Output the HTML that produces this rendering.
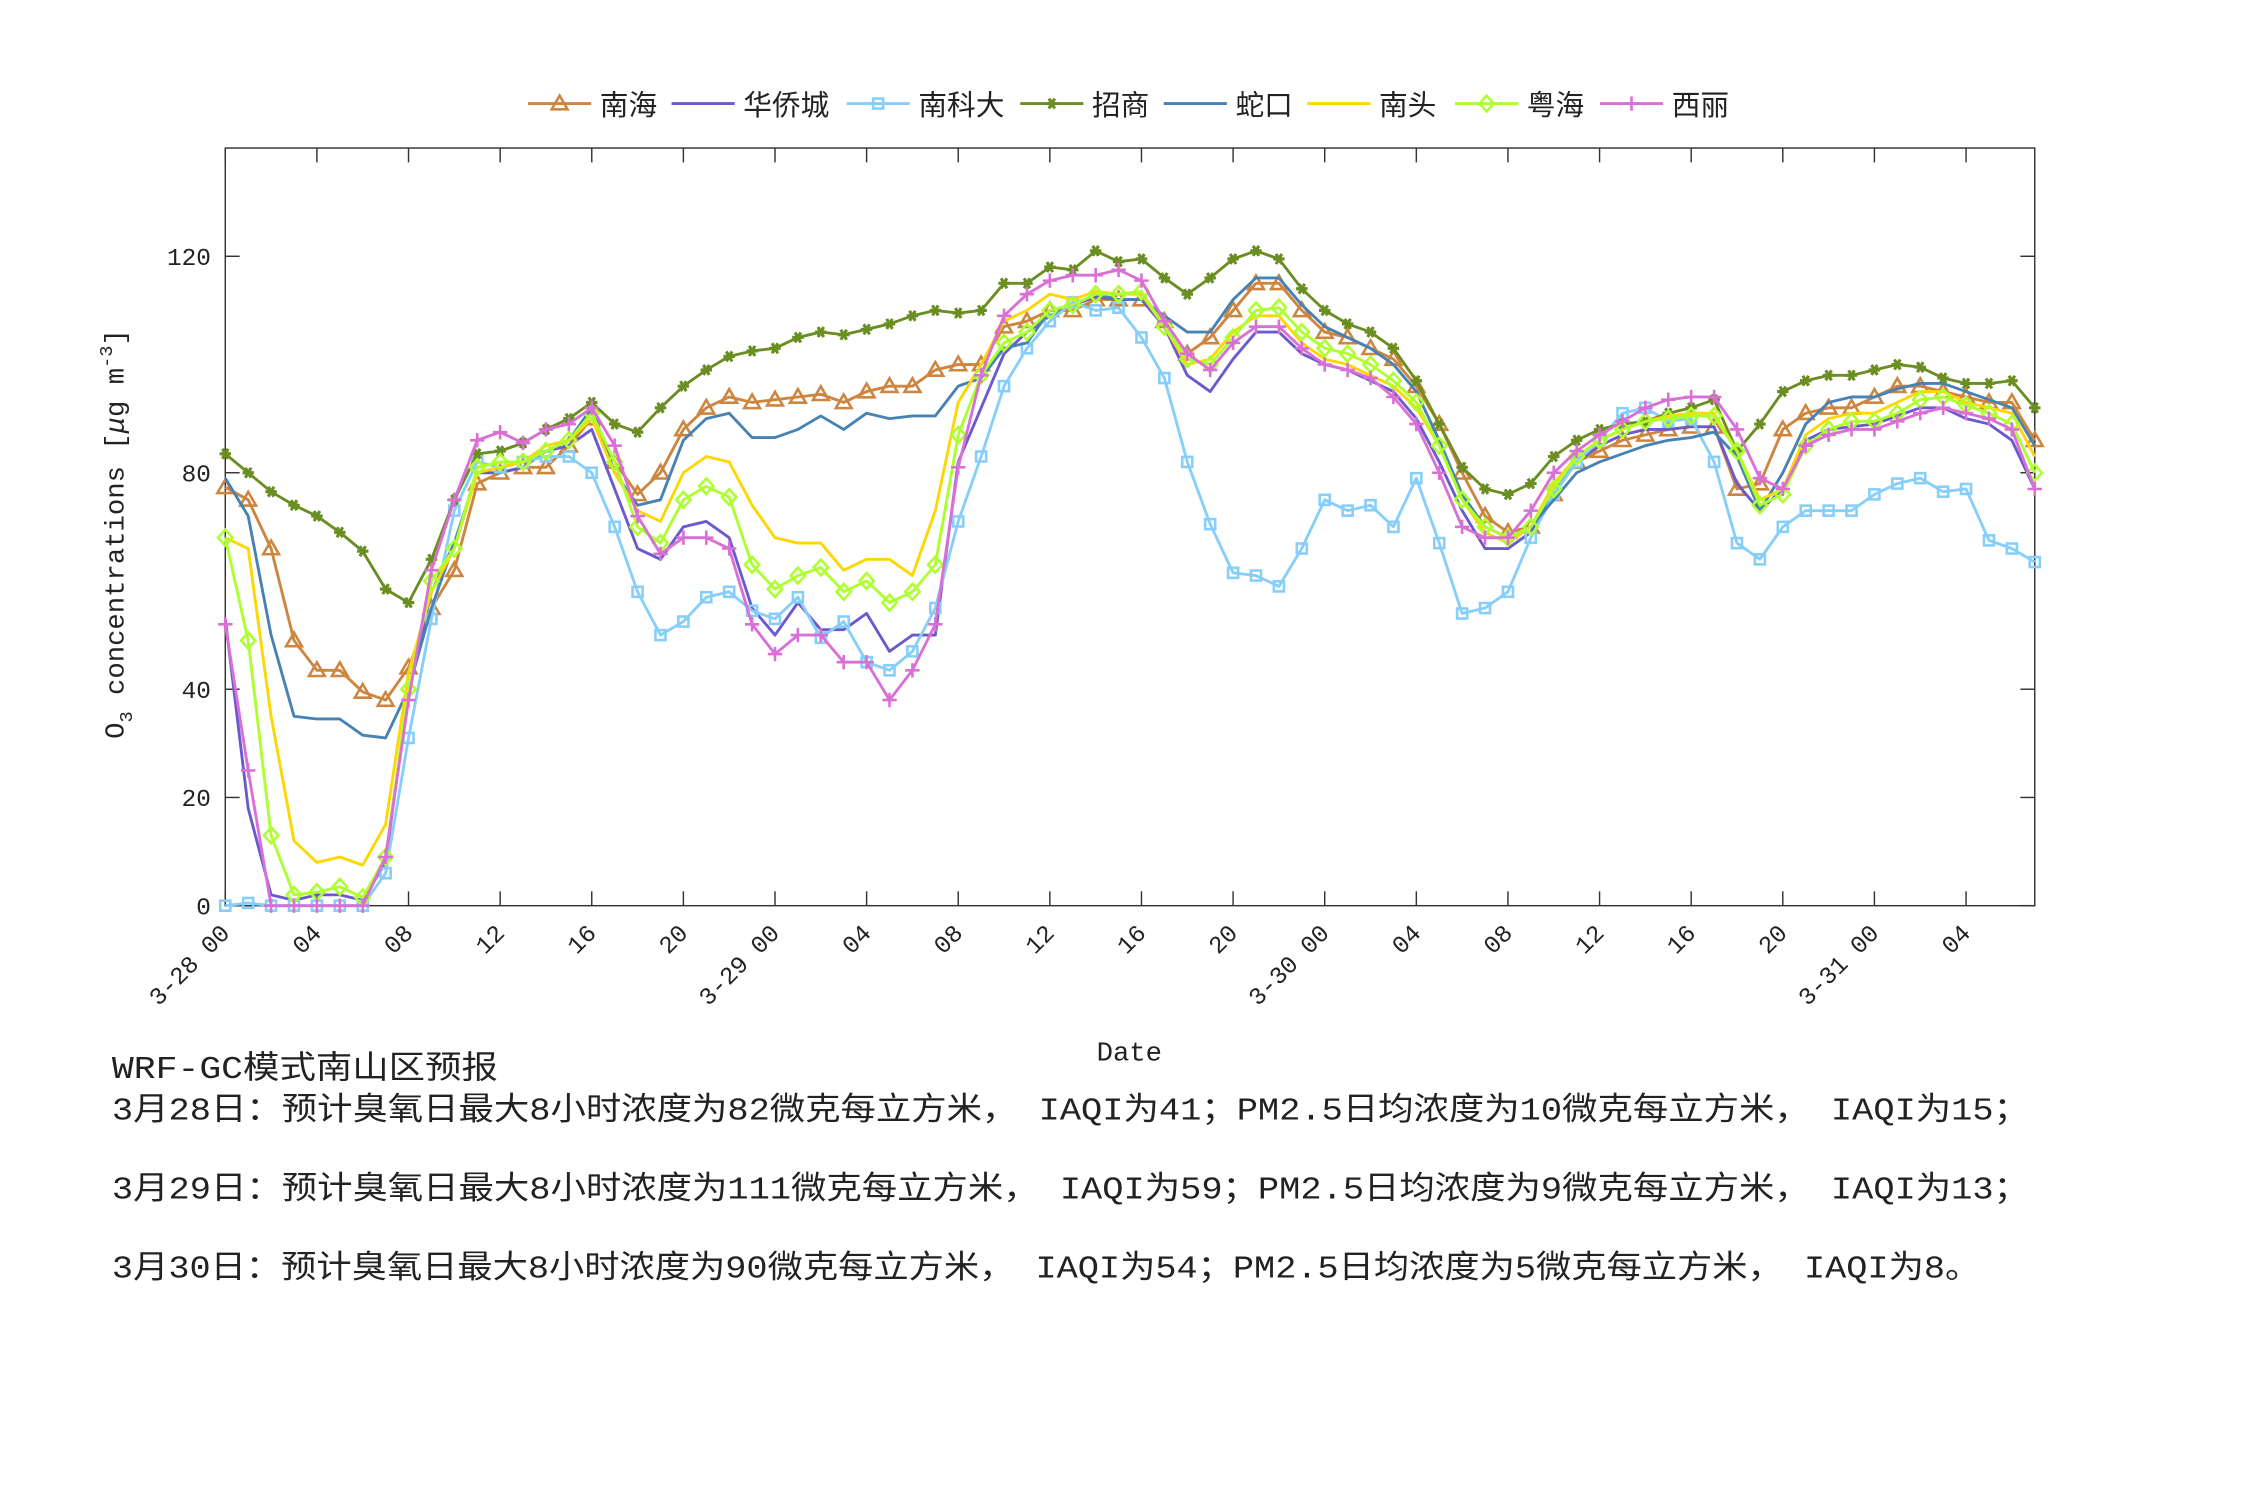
<!DOCTYPE html>
<html><head><meta charset="utf-8"><style>
html,body{margin:0;padding:0;background:#fff}
svg{display:block}
text{font-family:"Liberation Mono","Noto Sans CJK SC",monospace;fill:#222}
.cjk{font-family:"Liberation Mono","Noto Sans CJK SC",sans-serif}
</style></head><body>
<svg id="chart" width="2250" height="1500" viewBox="0 0 1568 1045" xmlns="http://www.w3.org/2000/svg">
<rect x="0" y="0" width="1568" height="1045" fill="#fff"/>
<g id="legend"></g>
<rect x="157" y="103" width="1261" height="528" fill="none" stroke="#333" stroke-width="1"/>
<g id="ticks"></g>
<g id="series"></g>
<text x="787" y="739" font-size="19" text-anchor="middle">Date</text>
<text transform="translate(86,372) rotate(-90)" font-size="19" text-anchor="middle">O<tspan font-size="13" dy="6">3</tspan><tspan dy="-6"> concentrations [</tspan><tspan font-style="italic">μ</tspan>g m<tspan font-size="13" dy="-8">-3</tspan><tspan dy="8">]</tspan></text>
<g font-size="22" class="cjk">
<text x="78" y="751" textLength="269" lengthAdjust="spacingAndGlyphs">WRF-GC模式南山区预报</text>
<text x="78" y="780" textLength="1336" lengthAdjust="spacingAndGlyphs">3月28日：预计臭氧日最大8小时浓度为82微克每立方米， IAQI为41；PM2.5日均浓度为10微克每立方米， IAQI为15；</text>
<text x="78" y="835" textLength="1336" lengthAdjust="spacingAndGlyphs">3月29日：预计臭氧日最大8小时浓度为111微克每立方米， IAQI为59；PM2.5日均浓度为9微克每立方米， IAQI为13；</text>
<text x="78" y="890" textLength="1302" lengthAdjust="spacingAndGlyphs">3月30日：预计臭氧日最大8小时浓度为90微克每立方米， IAQI为54；PM2.5日均浓度为5微克每立方米， IAQI为8。</text>
</g>
</svg>
<script>
const seriesNames = ["南海","华侨城","南科大","招商","蛇口","南头","粤海","西丽"];
const nanhai = [77.3,75,66,49,43.5,43.5,39.5,38,44,55,62,78,80,81,81,85,90,82,76,80,88,92,94,93,93.5,94,94.5,93,95,96,96,99,100,100,107,108,110,110,112,112,112,108,102,105,110,115,115,110,106,105,103,101,96,89,80,72,69,70,76,82,84,86,87,88,88.5,88.5,77,78,88,91,92,92,94,96,96,95,94,93,93,86];
const huaqiaocheng = [53,18,2,1,2,2,1,8,40,58,67,80,80,81,84,85,88,77,66,64,70,71,68,55,50,56,51,51,54,47,50,50,82,92,102,106,109,111,112.5,112,112,107,98,95,101,106,106,102,100,99,97,95,90,82,73,66,66,69,77,82,85,87,88,88,88.5,88.5,78,73,77,86,88,88.5,89,90.5,92,92,90,89,86,77];
const nankeda = [0,0.5,0,0,0,0,0,6,31,53,73,82,81,82,83,83,80,70,58,50,52.5,57,58,54.5,53,57,49.5,52.5,45,43.5,47,55,71,83,96,103,108,111.5,110,110.5,105,97.5,82,70.5,61.5,61,59,66,75,73,74,70,79,67,54,55,58,68,76,82,86,91,92,89.5,90,82,67,64,70,73,73,73,76,78,79,76.5,77,67.5,66,63.5];
const zhaoshang = [83.5,80,76.5,74,72,69,65.5,58.5,56,64,75,83.5,84,85.5,88,90,93,89,87.5,92,96,99,101.5,102.5,103,105,106,105.5,106.5,107.5,109,110,109.5,110,115,115,118,117.5,121,119,119.5,116,113,116,119.5,121,119.5,114,110,107.5,106,103,97,89,81,77,76,78,83,86,88,89,89.5,91,92,93.5,84,89,95,97,98,98,99,100,99.5,97.5,96.5,96.5,97,92];
const shekou = [79,72,50,35,34.5,34.5,31.5,31,40,55,67,80,81,82,84,86,92,80,74,75,86,90,91,86.5,86.5,88,90.5,88,91,90,90.5,90.5,96,97.5,103,104,110,111,113,112,112,109,106,106,112,116,116,111,107,105,103,100,95,86,76,70,68,70,75,80,82,83.5,85,86,86.5,87.5,83,73,80,89,93,94,94,95.5,96.5,96.5,95,93.5,92,85];
const nantou = [68,66,35,12,8,9,7.5,15,43,58,66,80,81,82,85,86,90,80,73,71,80,83,82,74,68,67,67,62,64,64,61,73,93,100,108,110,113,112,113.5,113,113,107,100,101,106,109,109,104,101,100,98,96,92,85,75,69,67,70,78,83,86,88,89.5,90.5,91,91,84,75,77,87,90,91,91,93,95,95,93,92,91,83];
const yuehai = [68,49,13,2,2.5,3.5,1.5,9,40,60,66,81,82,82,84,86,91,82,70,67,75,77.5,75.5,63,58.5,61,62.5,58,60,56,58,63,87,98,104,106,110,111,113,113,113.5,107,101,100,105,110,110.5,106,103,102,100,97,93,85,75,70,68,70,77,83,86,88,89.5,90,90.5,90.5,84,74,76,85,88,89.5,89.5,91,93.5,94,92.5,91,89,80];
const xili = [52,25,0,0,0,0,0,9,38,62,75,86,87.5,85.5,88,89,92,85,72,65,68,68,66,52,46.5,50,50,45,45,38,43.5,52,81,98,109,113,115.5,116.5,116.5,117.5,115.5,108,102,99,104,107,107,103,100,99,97.5,94,89,80,70,68,68,73,80,84,87,89.5,92,93.5,94,94,88,79,77,85,87,88,88,89.5,91,92,91,90,88,77];
const yTickValues = [0,20,40,80,120];
const xTickLabels = ["3-28 00","04","08","12","16","20","3-29 00","04","08","12","16","20","3-30 00","04","08","12","16","20","3-31 00","04"];
const xTickHours = [0,4,8,12,16,20,24,28,32,36,40,44,48,52,56,60,64,68,72,76];

const NS="http://www.w3.org/2000/svg";
const X0=157,X1=1418,Y0=631,Y1=103,HMAX=79,VMAX=140;
function xs(h){return X0+(X1-X0)*h/HMAX;}
function ys(v){return Y0-(Y0-Y1)*v/VMAX;}
function mk(tag,attrs,parent){const e=document.createElementNS(NS,tag);for(const k in attrs)e.setAttribute(k,attrs[k]);parent.appendChild(e);return e;}

const styles=[
 {c:"#cd853f",m:"tri"},{c:"#6a5acd",m:"none"},{c:"#87cefa",m:"sq"},{c:"#6b8e23",m:"star"},
 {c:"#4682b4",m:"none"},{c:"#ffd700",m:"none"},{c:"#adff2f",m:"dia"},{c:"#da70d6",m:"plus"}];
const allData=[nanhai,huaqiaocheng,nankeda,zhaoshang,shekou,nantou,yuehai,xili];
const keys=["nanhai","huaqiaocheng","nankeda","zhaoshang","shekou","nantou","yuehai","xili"];

function marker(type,x,y,c,g){
  let e=null;
  if(type==="tri"){e=mk("polygon",{points:`${x},${y-5.5} ${x-5.5},${y+4} ${x+5.5},${y+4}`,fill:"none",stroke:c,"stroke-width":1.8},g);}
  else if(type==="sq"){e=mk("rect",{x:x-3.5,y:y-3.5,width:7,height:7,fill:"none",stroke:c,"stroke-width":1.8},g);}
  else if(type==="dia"){e=mk("polygon",{points:`${x},${y-5.5} ${x+5},${y} ${x},${y+5.5} ${x-5},${y}`,fill:"none",stroke:c,"stroke-width":1.8},g);}
  else if(type==="plus"){e=mk("path",{d:`M${x-5},${y}H${x+5}M${x},${y-5}V${y+5}`,stroke:c,"stroke-width":1.8},g);}
  else if(type==="star"){e=mk("path",{d:`M${x-4},${y}H${x+4}M${x-2},${y-3.5}L${x+2},${y+3.5}M${x+2},${y-3.5}L${x-2},${y+3.5}`,stroke:c,"stroke-width":2.2},g);}
  if(e){
  }
}

const tg=document.getElementById('ticks');
yTickValues.forEach(v=>{
  const y=ys(v);
  mk("line",{x1:X0,y1:y,x2:X0+10,y2:y,stroke:"#333"},tg);
  mk("line",{x1:X1,y1:y,x2:X1-10,y2:y,stroke:"#333"},tg);
  const t=mk("text",{x:X0-10,y:y+6,"font-size":17,"text-anchor":"end"},tg);
  
  
  t.textContent=v;
});
xTickHours.forEach((h,i)=>{
  const x=xs(h);
  mk("line",{x1:x,y1:Y0,x2:x,y2:Y0-10,stroke:"#333"},tg);
  mk("line",{x1:x,y1:Y1,x2:x,y2:Y1+10,stroke:"#333"},tg);
  const t=mk("text",{x:x+4,y:Y0+20,"font-size":17,"text-anchor":"end",transform:`rotate(-45 ${x+4} ${Y0+20})`},tg);
  
  
  t.textContent=xTickLabels[i];
});

const sg=document.getElementById('series');
allData.forEach((d,si)=>{
  const g=mk("g",{},sg);
  
  
  const pts=d.map((v,i)=>xs(i).toFixed(2)+","+ys(v).toFixed(2)).join(" ");
  const pl=mk("polyline",{points:pts,fill:"none",stroke:styles[si].c,"stroke-width":2,"stroke-linejoin":"round"},g);
  
  
  if(styles[si].m!=="none") d.forEach((v,i)=>marker(styles[si].m,xs(i),ys(v),styles[si].c,g));
});

const lg=document.getElementById('legend');
const legX=[368,468,590,711,811,911,1014,1115];
seriesNames.forEach((n,i)=>{
  const g=mk("g",{},lg);
  
  
  const x=legX[i],y=72;
  mk("line",{x1:x,y1:y,x2:x+44,y2:y,stroke:styles[i].c,"stroke-width":2},g);
  marker(styles[i].m,x+22,y,styles[i].c,g);
  const t=mk("text",{x:x+50,y:y+8,"font-size":20,class:"cjk"},g);
  t.textContent=n;
});
</script>
</body></html>
